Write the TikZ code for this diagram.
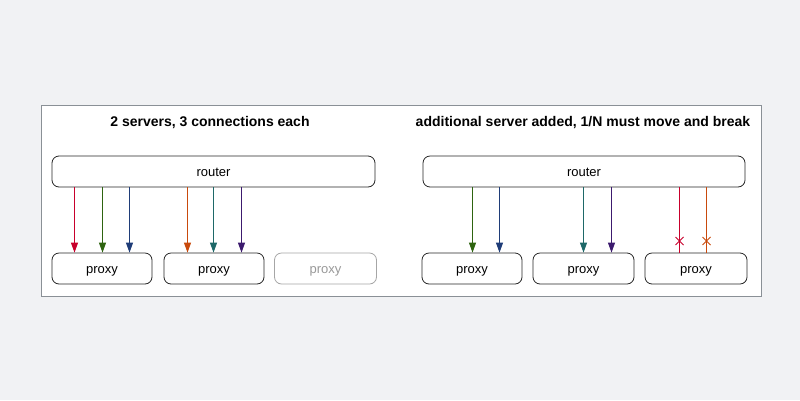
\documentclass[tikz,border=0pt]{standalone}
\usepackage{fontspec}
\setmainfont{Liberation Sans}
\usetikzlibrary{arrows.meta}
\definecolor{bg}{HTML}{F1F2F4}
\definecolor{frame}{HTML}{8A9096}
\definecolor{cred}{HTML}{C8002C}
\definecolor{cgreen}{HTML}{2E6410}
\definecolor{cblue}{HTML}{1F3D78}
\definecolor{corange}{HTML}{C94A0C}
\definecolor{cteal}{HTML}{1E6868}
\definecolor{cpurple}{HTML}{3C1A6E}
\tikzset{
  box/.style={draw=black!85, rounded corners=7pt, fill=white, line width=0.8pt, font=\fontsize{13}{15}\selectfont, inner sep=0pt, text height=10pt, text depth=1pt},
  ghost/.style={box, draw=black!35, text=black!40},
  conn/.style={line width=0.9pt, -{Triangle[length=10pt,width=7pt]}},
  brk/.style={line width=0.9pt},
  ttl/.style={font=\bfseries\fontsize{14}{16}\selectfont},
}
\begin{document}
\begin{tikzpicture}[x=1pt,y=-1pt]
\useasboundingbox (0,0) rectangle (800,400);
\fill[bg] (0,0) rectangle (800,400);
\draw[frame, fill=white, line width=0.8pt] (41,105) rectangle (761,296);
% left
\node[ttl] (t1) at (210,123) {2 servers, 3 connections each};
\node[box, minimum width=323pt, minimum height=31pt] (r1) at (213.5,171.5) {router};
\node[box, minimum width=100pt, minimum height=31pt] (p1) at (102,268.5) {proxy};
\node[box, minimum width=100pt, minimum height=31pt] (p2) at (214,268.5) {proxy};
\node[ghost, minimum width=102pt, minimum height=31pt] (p3) at (325.5,268.5) {proxy};
\draw[conn, cred] (r1.south -| 74.5,0) -- (p1.north -| 74.5,0);
\draw[conn, cgreen] (r1.south -| 102.5,0) -- (p1.north -| 102.5,0);
\draw[conn, cblue] (r1.south -| 129.5,0) -- (p1.north -| 129.5,0);
\draw[conn, corange] (r1.south -| 187.5,0) -- (p2.north -| 187.5,0);
\draw[conn, cteal] (r1.south -| 213.5,0) -- (p2.north -| 213.5,0);
\draw[conn, cpurple] (r1.south -| 241.5,0) -- (p2.north -| 241.5,0);
% right
\node[ttl] (t2) at (583,123) {additional server added, 1/N must move and break};
\node[box, minimum width=322pt, minimum height=31pt] (r2) at (584,171.5) {router};
\node[box, minimum width=100pt, minimum height=31pt] (q1) at (472,268.5) {proxy};
\node[box, minimum width=101pt, minimum height=31pt] (q2) at (583.5,268.5) {proxy};
\node[box, minimum width=102pt, minimum height=31pt] (q3) at (696,268.5) {proxy};
\draw[conn, cgreen] (r2.south -| 472.5,0) -- (q1.north -| 472.5,0);
\draw[conn, cblue] (r2.south -| 499.5,0) -- (q1.north -| 499.5,0);
\draw[conn, cteal] (r2.south -| 583.5,0) -- (q2.north -| 583.5,0);
\draw[conn, cpurple] (r2.south -| 611.5,0) -- (q2.north -| 611.5,0);
\draw[brk, cred] (r2.south -| 679.5,0) -- (q3.north -| 679.5,0);
\draw[brk, corange] (r2.south -| 706.5,0) -- (q3.north -| 706.5,0);
\draw[brk, cred] (675.5,237) -- (683.5,245) (675.5,245) -- (683.5,237);
\draw[brk, corange] (702.5,237) -- (710.5,245) (702.5,245) -- (710.5,237);
\end{tikzpicture}
\end{document}
